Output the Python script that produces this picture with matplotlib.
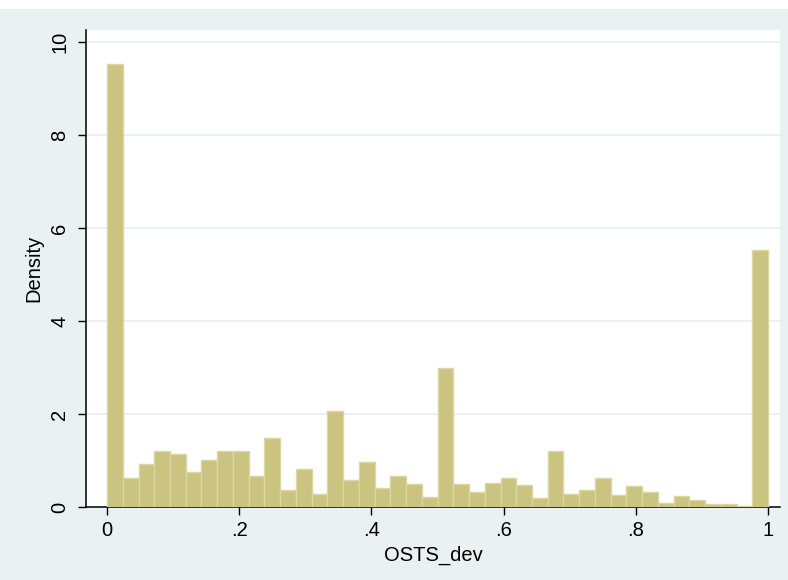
import numpy as np
import matplotlib.pyplot as plt
from matplotlib.patches import Rectangle

plt.rcParams['font.family'] = ['Liberation Sans', 'DejaVu Sans']

# histogram of OSTS_dev, 42 equal bins on [0, 1]
bin_lo = 0.0
bin_hi = 1.0
density = [9.53, 0.62, 0.93, 1.21, 1.13, 0.76, 1.01, 1.20, 1.20, 0.67,
           1.49, 0.37, 0.81, 0.27, 2.07, 0.59, 0.96, 0.40, 0.66, 0.50,
           0.21, 2.99, 0.49, 0.32, 0.52, 0.63, 0.47, 0.19, 1.20, 0.27,
           0.37, 0.62, 0.25, 0.46, 0.33, 0.09, 0.24, 0.14, 0.06, 0.06,
           0.03, 5.53]
xticks = [0, 0.2, 0.4, 0.6, 0.8, 1.0]
xtick_labels = ["0", ".2", ".4", ".6", ".8", "1"]
yticks = [0, 2, 4, 6, 8, 10]

bg = '#eaf1f3'
fill = '#cbc380'
edge = '#dcd6a2'

fig = plt.figure(figsize=(7.88, 5.80), dpi=100)
fig.patch.set_facecolor('white')
# graph region background (top strip stays white)
fig.patches.append(Rectangle((0, 0), 1, 571 / 580, transform=fig.transFigure,
                             facecolor=bg, edgecolor='none', zorder=-10))

ax = fig.add_axes([86 / 788, 73 / 580, 694 / 788, 477 / 580])
ax.set_facecolor('white')

edges = np.linspace(bin_lo, bin_hi, len(density) + 1)
width = edges[1] - edges[0]
ax.bar(edges[:-1], density, width=width, align='edge', color=fill,
       edgecolor=edge, linewidth=1.0, zorder=3)

ax.set_xlim(-0.0318, 1.018)
ax.set_ylim(0, 10.26)

ax.set_yticks(yticks)
ax.set_yticklabels([str(v) for v in yticks], rotation=90, va='center')
ax.set_xticks(xticks)
ax.set_xticklabels(xtick_labels)
ax.tick_params(axis='both', labelsize=14.5, length=6, width=1, color='black')
ax.tick_params(axis='y', pad=6)
ax.tick_params(axis='x', pad=4)

ax.grid(axis='y', color='#e6eef1', linewidth=1.1, zorder=0)
ax.set_axisbelow(True)

for side in ['top', 'right']:
    ax.spines[side].set_visible(False)
for side in ['left', 'bottom']:
    ax.spines[side].set_linewidth(1.1)
    ax.spines[side].set_color('black')

ax.set_xlabel("OSTS_dev", fontsize=14.5, labelpad=4)
ax.set_ylabel("Density", fontsize=14.5, labelpad=5)

fig.savefig("out.png", dpi=100, facecolor=fig.get_facecolor())
